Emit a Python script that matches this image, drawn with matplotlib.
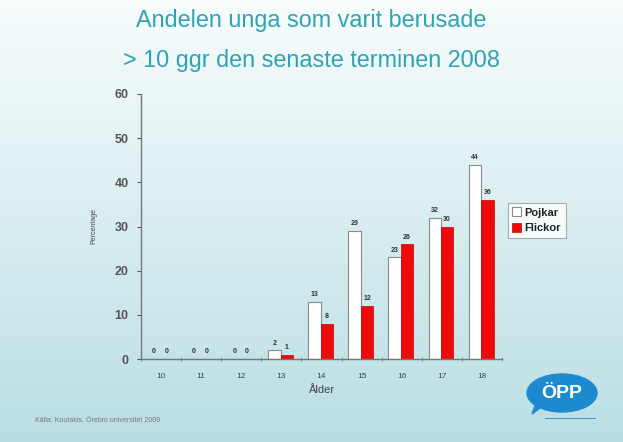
import numpy as np
import matplotlib
matplotlib.use('Agg')
import matplotlib.pyplot as plt
from matplotlib.patches import Ellipse, Polygon

# Data
alder = ['10', '11', '12', '13', '14', '15', '16', '17', '18']
pojkar = [0, 0, 0, 2, 13, 29, 23, 32, 44]
flickor = [0, 0, 0, 1, 8, 12, 26, 30, 36]

plt.rcParams['font.family'] = ['Liberation Sans', 'DejaVu Sans']

W, H = 623, 442
fig = plt.figure(figsize=(W / 100, H / 100), dpi=100)

# Background gradient
bg = fig.add_axes([0, 0, 1, 1], zorder=-10)
grad = np.linspace(0, 1, 256).reshape(-1, 1)
top = np.array([0.97, 0.99, 0.99])
bottom = np.array([0.73, 0.87, 0.89])
img = top + (bottom - top) * grad[..., None]
bg.imshow(img, aspect='auto', extent=[0, 1, 0, 1], origin='upper')
bg.set_xlim(0, 1)
bg.set_ylim(0, 1)
bg.axis('off')

# Title
title_col = '#2ea3b3'
fig.text(0.5, 1 - 20 / H, 'Andelen unga som varit berusade', ha='center', va='center',
         fontsize=16.8, color=title_col)
fig.text(0.5, 1 - 61 / H, '> 10 ggr den senaste terminen 2008', ha='center', va='center',
         fontsize=16.8, color=title_col)

# Plot area
x0, x1 = 141, 502
y0, y1 = 94, 359
ax = fig.add_axes([x0 / W, 1 - y1 / H, (x1 - x0) / W, (y1 - y0) / H])
ax.patch.set_alpha(0)

x = np.arange(len(alder))
bw = 0.31
b1 = ax.bar(x - bw / 2 - 0.02, pojkar, bw, color='white', edgecolor='#8a8a8a', linewidth=0.8)
b2 = ax.bar(x + bw / 2 - 0.02, flickor, bw, color='#ee0a0a', edgecolor='#cc0000', linewidth=0.5)

for rect, v in zip(b1, pojkar):
    ax.text(rect.get_x() + rect.get_width() / 2, v + 0.8, str(v), ha='center', va='bottom',
            fontsize=5, color='#333333', fontweight='bold')
for rect, v in zip(b2, flickor):
    ax.text(rect.get_x() + rect.get_width() / 2, v + 0.8, str(v), ha='center', va='bottom',
            fontsize=5, color='#333333', fontweight='bold')

ax.set_xlim(-0.5, len(alder) - 0.5)
ax.set_ylim(0, 60)
ax.set_yticks(range(0, 61, 10))
ax.set_xticks(x)
ax.set_xticklabels(alder)
ax.set_xticks(np.arange(-0.5, len(alder), 1), minor=True)
ax.tick_params(axis='x', which='major', length=0, labelsize=6, colors='#444444', pad=10)
ax.tick_params(axis='x', which='minor', length=3, direction='inout', color='#777777')
ax.tick_params(axis='y', length=3, direction='out', labelsize=9, colors='#555555', pad=6)
for lbl in ax.get_yticklabels():
    lbl.set_fontweight('bold')
for s in ['top', 'right']:
    ax.spines[s].set_visible(False)
for s in ['left', 'bottom']:
    ax.spines[s].set_color('#777777')
    ax.spines[s].set_linewidth(1.0)

ax.set_xlabel('Ålder', fontsize=8, color='#444444', labelpad=4)
ax.set_ylabel('Percentage', fontsize=5, color='#444444', labelpad=12)

# Legend
leg = ax.legend([b1, b2], ['Pojkar', 'Flickor'], loc='upper left',
                bbox_to_anchor=(508 / W, 1 - 203 / H), bbox_transform=fig.transFigure,
                frameon=True, fancybox=False, fontsize=8, handlelength=0.8, handleheight=0.8,
                handletextpad=0.3, borderpad=0.4, labelspacing=0.5, borderaxespad=0)
leg.get_frame().set_edgecolor('#999999')
leg.get_frame().set_facecolor('white')
leg.get_frame().set_linewidth(0.8)
for t in leg.get_texts():
    t.set_fontweight('bold')
    t.set_color('#222222')

# Source footnote
fig.text(35 / W, 1 - 421 / H, 'Källa: Koutakis, Örebro universitet 2009', ha='left', va='center',
         fontsize=5, color='#777777')

# ÖPP logo
cx, cy = 562 / W, 1 - 393 / H
bg.add_patch(Polygon([[538 / W, 1 - 398 / H], [548 / W, 1 - 402 / H], [532 / W, 1 - 414 / H]],
                     closed=True, color='#1d8ad0', zorder=2))
bg.add_patch(Ellipse((cx, cy), 70 / W, 38 / H, color='#1d8ad0', zorder=3))
bg.text(cx, cy - 1 / H, 'ÖPP', ha='center', va='center', fontsize=14, fontweight='bold',
        color='white', zorder=4)
bg.add_line(plt.Line2D([545 / W, 595 / W], [1 - 418 / H, 1 - 418 / H], color='#1d8ad0',
                       linewidth=0.6, zorder=2))

fig.savefig('out.png', dpi=100)
